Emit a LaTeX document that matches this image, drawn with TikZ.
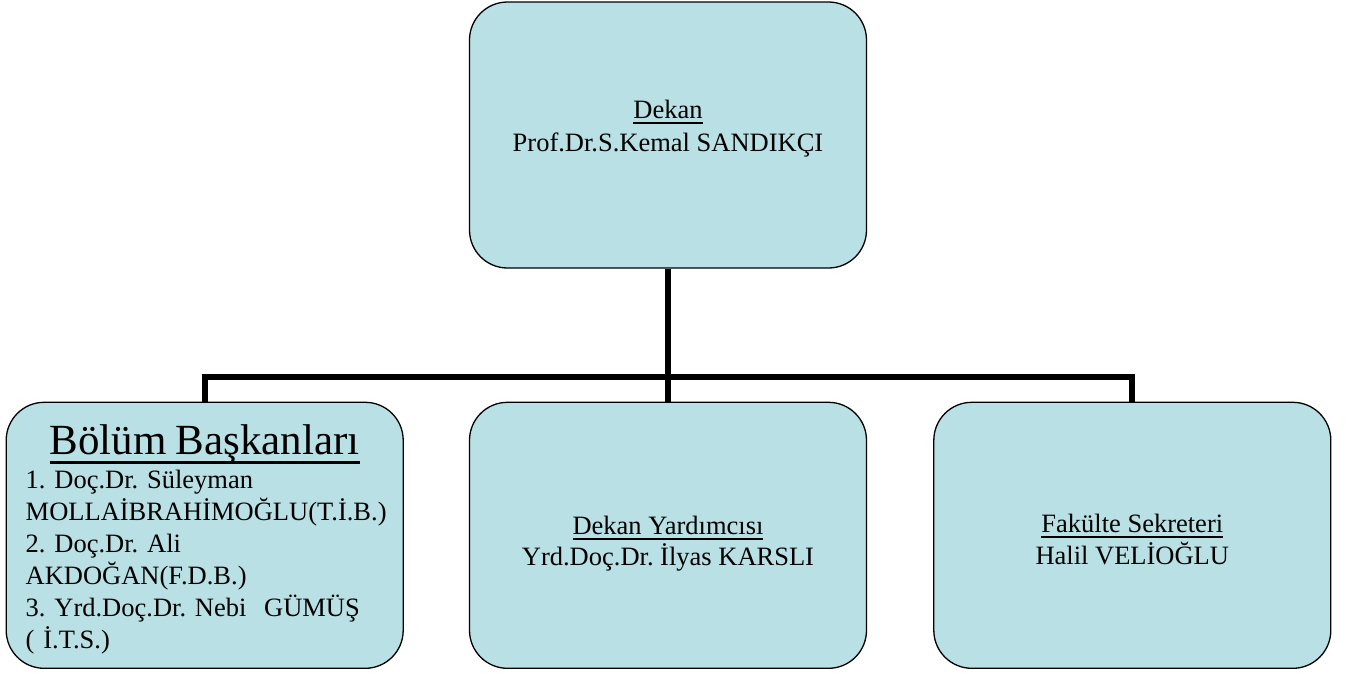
\documentclass[tikz,border=0pt]{standalone}
\usepackage{fontspec}
\setmainfont{Liberation Serif}
\usetikzlibrary{positioning}
\definecolor{boxfill}{RGB}{185,224,228}
\newcommand{\uword}[3]{\leavevmode\setbox0\hbox{#3}\rlap{\rule[-#1]{\wd0}{#2}}\box0} % 带粗下划线的文字
\tikzset{
    unit/.style={draw, line width=1.3pt, fill=boxfill, rounded corners=38pt, minimum width=397pt, minimum height=266pt, inner sep=0pt, align=center, font=\frenchspacing\fontsize{26.5}{32}\selectfont}, % 单位框的样式
    link/.style={line width=6pt} % 连线的样式
}

\begin{document}
\begin{tikzpicture}[x=1pt, y=-1pt, node distance=133pt and 65pt]
    \useasboundingbox (0,0) rectangle (1346,673);

    \node[unit, text height=40pt, text depth=8pt] (dekan) at (668,135) {\uword{6pt}{2pt}{Dekan}\\[1pt]Prof.Dr.S.Kemal SANDIKÇI};
    \node[unit, below=of dekan, text height=70pt, text depth=10pt] (yardimci) {\uword{6pt}{2pt}{Dekan Yardımcısı}\\[-1pt]Yrd.Doç.Dr. İlyas KARSLI};
    \node[unit, left=of yardimci, text width=358pt, align=left, text height=29pt, text depth=191pt] (bolum) {%
        \makebox[358pt]{\fontsize{43}{46}\selectfont\uword{10pt}{3pt}{Bölüm Başkanları}}\\[2pt]
        1. Doç.Dr. Süleyman\\
        MOLLAİBRAHİMOĞLU(T.İ.B.)\\
        2. Doç.Dr. Ali\\
        AKDOĞAN(F.D.B.)\\
        3. Yrd.Doç.Dr. Nebi\ \ GÜMÜŞ\\
        ( İ.T.S.)};
    \node[unit, right=66pt of yardimci, text height=68pt, text depth=10pt] (sekreter) {\uword{6pt}{2pt}{Fakülte Sekreteri}\\Halil VELİOĞLU};

    \coordinate (hub) at (668,377);
    \draw[link] (dekan.south) -- (hub);
    \draw[link] (bolum.north) |- (hub) -| (sekreter.north);
    \draw[link] (yardimci.north) -- (yardimci.north |- hub);
\end{tikzpicture}
\end{document}
